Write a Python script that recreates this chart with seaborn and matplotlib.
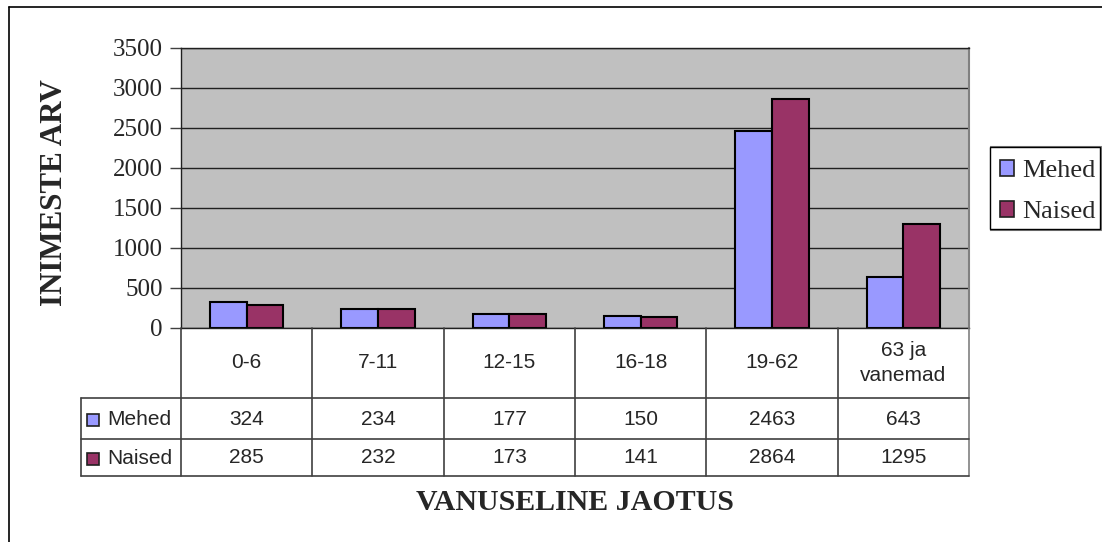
import matplotlib
matplotlib.use("Agg")
import matplotlib.pyplot as plt
from matplotlib.patches import Patch, Rectangle
from matplotlib.lines import Line2D
import seaborn as sns
import pandas as pd

# data
age_groups = ["0-6", "7-11", "12-15", "16-18", "19-62", "63 ja\nvanemad"]
mehed = [324, 234, 177, 150, 2463, 643]
naised = [285, 232, 173, 141, 2864, 1295]
series = ["Mehed", "Naised"]
colors = ["#9999FF", "#993366"]
y_ticks = [0, 500, 1000, 1500, 2000, 2500, 3000, 3500]

df = pd.DataFrame({
    "vanus": age_groups * 2,
    "arv": mehed + naised,
    "sugu": [series[0]] * len(mehed) + [series[1]] * len(naised),
})

sns.set_theme(style="white")
serif = ["Liberation Serif", "DejaVu Serif"]
sans = ["Liberation Sans", "DejaVu Sans"]

W, H = 1102, 542
fig = plt.figure(figsize=(W / 100, H / 100), dpi=100)
fig.patch.set_facecolor("white")


def fx(px):
    return px / W


def fy(py):
    return 1 - py / H


# main plot area
ax = fig.add_axes([fx(181), fy(328), fx(969 - 181), (328 - 48) / H])
sns.barplot(data=df, x="vanus", y="arv", hue="sugu", palette=colors,
            width=0.56, edgecolor="black", linewidth=1.5, ax=ax,
            legend=False, saturation=1)
ax.set_facecolor("#C0C0C0")
ax.set_xlim(-0.5, len(age_groups) - 0.5)
ax.set_ylim(0, 3500)
ax.set_yticks(y_ticks)
ax.set_yticklabels([str(t) for t in y_ticks], fontfamily=serif, fontsize=18)
ax.set_xticks([])
ax.set_xlabel("")
ax.set_ylabel("")
ax.yaxis.grid(True, color="#202020", linewidth=1)
ax.set_axisbelow(True)
ax.tick_params(axis="y", direction="out", length=8, width=1, color="#404040",
               left=True, pad=5)
for side in ["left", "bottom", "top"]:
    ax.spines[side].set_color("#202020")
    ax.spines[side].set_linewidth(1)
ax.spines["right"].set_color("#808080")
ax.spines["right"].set_linewidth(1.5)

# data table under the plot
tab = fig.add_axes([fx(81), fy(476), fx(888), 148 / H])
tab.set_xlim(0, 888)
tab.set_ylim(148, 0)
tab.axis("off")
lab_w = 100
col_w = 788 / len(age_groups)
rows = [0, 70, 111, 148]
lc = "#404040"
for i in range(len(age_groups) + 1):
    x = lab_w + i * col_w
    tab.plot([x, x], [0, 148], color=lc if i < len(age_groups) else "#808080",
             lw=1.2, clip_on=False)
tab.plot([0, 0], [rows[1], rows[3]], color=lc, lw=1.2, clip_on=False)
for r in rows[1:]:
    tab.plot([0, 888], [r, r], color=lc, lw=1.2, clip_on=False)

fs_tab = 15
for i, g in enumerate(age_groups):
    cx = lab_w + (i + 0.5) * col_w
    tab.text(cx, (rows[0] + rows[1]) / 2, g, ha="center", va="center",
             fontfamily=sans, fontsize=fs_tab, linespacing=1.45)
    tab.text(cx, (rows[1] + rows[2]) / 2 + 1, str(mehed[i]), ha="center",
             va="center", fontfamily=sans, fontsize=fs_tab)
    tab.text(cx, (rows[2] + rows[3]) / 2, str(naised[i]), ha="center",
             va="center", fontfamily=sans, fontsize=fs_tab)

for k, (name, col) in enumerate(zip(series, colors)):
    cy = (rows[k + 1] + rows[k + 2]) / 2
    tab.add_patch(Rectangle((6, cy - 5), 12, 12, facecolor=col,
                            edgecolor="#202020", lw=1.2))
    tab.text(26, cy + 1, name, ha="left", va="center", fontfamily=sans,
             fontsize=fs_tab)

# legend at the right: frame drawn separately, entries placed inside it
fig.add_artist(Rectangle((fx(991), fy(230)), fx(111), 83 / H,
                         transform=fig.transFigure, facecolor="white",
                         edgecolor="#808080", lw=1.5))
fig.add_artist(Rectangle((fx(990), fy(229)), fx(110), 82 / H,
                         transform=fig.transFigure, facecolor="white",
                         edgecolor="black", lw=1))
handles = [Patch(facecolor=c, edgecolor="#202020", lw=1.2, label=s)
           for s, c in zip(series, colors)]
leg = fig.legend(handles=handles, loc="upper left",
                 bbox_to_anchor=(fx(1000), fy(160)), bbox_transform=fig.transFigure,
                 frameon=False, borderaxespad=0, borderpad=0,
                 handlelength=0.53, handleheight=0.53, handletextpad=0.3,
                 labelspacing=0.72,
                 prop={"family": serif, "size": 19})

# axis titles
fig.text(fx(55), fy(192.5), "INIMESTE ARV", rotation=90, ha="center", va="center",
         fontfamily=serif, fontweight="bold", fontsize=22.3)
fig.text(fx(575), fy(503), "VANUSELINE JAOTUS", ha="center", va="center",
         fontfamily=serif, fontweight="bold", fontsize=21.5)

# outer chart frame
fig.add_artist(Line2D([fx(9), fx(9)], [0, fy(7)], color="black", lw=1.2))
fig.add_artist(Line2D([fx(9), 1], [fy(7), fy(7)], color="black", lw=1.2))

fig.savefig("out.png", dpi=100)
plt.close(fig)
